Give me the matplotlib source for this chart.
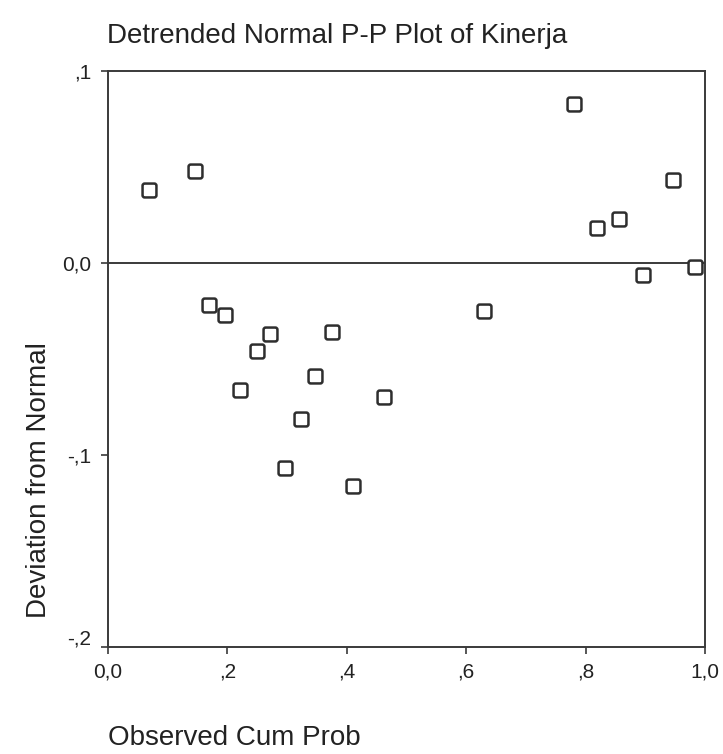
import matplotlib
matplotlib.use("Agg")
import matplotlib.pyplot as plt
from matplotlib.path import Path
import matplotlib.transforms as mtransforms

plt.rcParams['font.family'] = ['Liberation Sans', 'DejaVu Sans']

title = "Detrended Normal P-P Plot of Kinerja"
x_label = "Observed Cum Prob"
y_label = "Deviation from Normal"

observed_cum_prob = [0.069, 0.146, 0.169, 0.196, 0.221, 0.249, 0.271, 0.296,
                     0.323, 0.346, 0.375, 0.411, 0.463, 0.629, 0.781, 0.819,
                     0.856, 0.896, 0.947, 0.983]
deviation = [0.038, 0.048, -0.022, -0.027, -0.066, -0.046, -0.037, -0.107,
             -0.081, -0.059, -0.036, -0.116, -0.070, -0.025, 0.083, 0.018,
             0.023, -0.006, 0.043, -0.002]

x_ticks = [0.0, 0.2, 0.4, 0.6, 0.8, 1.0]
x_tick_labels = ["0,0", ",2", ",4", ",6", ",8", "1,0"]
y_ticks = [0.1, 0.0, -0.1, -0.2]
y_tick_labels = [",1", "0,0", "-,1", "-,2"]

# rounded-square marker path
r = 0.3
verts = [(-1 + r, -1), (1 - r, -1), (1, -1), (1, -1 + r), (1, 1 - r), (1, 1),
         (1 - r, 1), (-1 + r, 1), (-1, 1), (-1, 1 - r), (-1, -1 + r), (-1, -1),
         (-1 + r, -1), (-1 + r, -1)]
codes = [Path.MOVETO, Path.LINETO, Path.CURVE3, Path.CURVE3, Path.LINETO,
         Path.CURVE3, Path.CURVE3, Path.LINETO, Path.CURVE3, Path.CURVE3,
         Path.LINETO, Path.CURVE3, Path.CURVE3, Path.CLOSEPOLY]
rsq = Path(verts, codes)

fig = plt.figure(figsize=(7.23, 7.54), dpi=100)
ax = fig.add_axes([108/723, 1-647/754, (705-108)/723, (647-71)/754])

edge = "#3a3a3a"
ax.axhline(0.0, color=edge, lw=1.4, zorder=1)
ax.plot(observed_cum_prob, deviation, linestyle="none", marker=rsq,
        markersize=10, markerfacecolor="white", markeredgecolor="#2e2e2e",
        markeredgewidth=1.8, zorder=3, clip_on=False)

ax.set_xlim(0, 1)
ax.set_ylim(-0.2, 0.1)
ax.set_xticks(x_ticks)
ax.set_xticklabels(x_tick_labels)
ax.set_yticks(y_ticks)
ax.set_yticklabels(y_tick_labels)
ax.tick_params(direction="out", length=5, width=1.2, color=edge,
               labelsize=15, labelcolor="#222222")
ax.tick_params(axis="x", pad=6)
ax.tick_params(axis="y", pad=7)
# lift the lowest y label, as in the reference
lbl = ax.get_yticklabels()[-1]
lbl.set_transform(lbl.get_transform() + mtransforms.ScaledTranslation(0, 10/100, fig.dpi_scale_trans))
for s in ax.spines.values():
    s.set_color(edge)
    s.set_linewidth(1.4)

fig.text(107/723, 1-36/754, title, fontsize=20, color="#222222",
         ha="left", va="center")
fig.text(108/723, 1-738/754, x_label, fontsize=20, color="#222222",
         ha="left", va="center")
fig.text(39/723, 1-480/754, y_label, fontsize=20, color="#222222",
         ha="center", va="center", rotation=90)

fig.savefig("out.png", dpi=100, facecolor="white")
